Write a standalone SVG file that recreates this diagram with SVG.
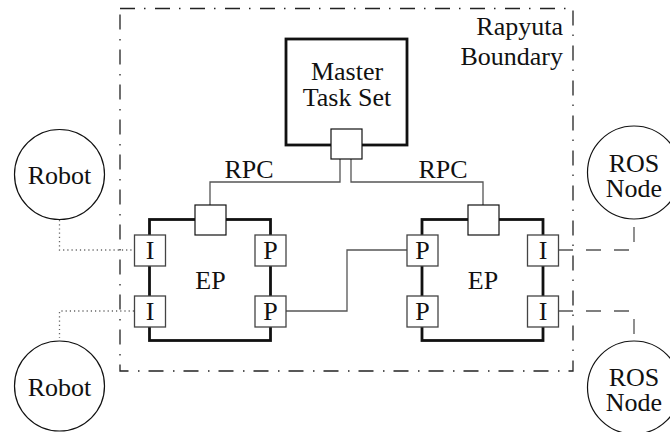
<svg xmlns="http://www.w3.org/2000/svg" width="670" height="432" viewBox="0 0 670 432">
<style>
text{font-family:"Liberation Serif","Times New Roman",serif;font-size:26px;fill:#111;text-anchor:middle}
.thick{fill:#fff;stroke:#111;stroke-width:2.8}
.sq{fill:#fff;stroke:#111;stroke-width:1.2}
.port{fill:#fff;stroke:#444;stroke-width:1.3}
.circ{fill:#fff;stroke:#111;stroke-width:1.2}
.solid{fill:none;stroke:#555;stroke-width:1.3}
.dot{fill:none;stroke:#666;stroke-width:1.3;stroke-dasharray:1.2 3}
.dash{fill:none;stroke:#555;stroke-width:1.3;stroke-dasharray:15 13}
.bound{fill:none;stroke:#222;stroke-width:1.3;stroke-dasharray:15 9 1.5 9.5}
</style>
<rect width="670" height="432" fill="#fff"/>
<g id="boundary">
<path class="bound" d="M120,8.5 H573 V371 H120 Z"/>
<text x="563" y="35" style="text-anchor:end">Rapyuta</text>
<text x="563" y="65" style="text-anchor:end">Boundary</text>
</g>
<g id="connectors">
<path class="solid" d="M340,159 V182 H210 V205"/>
<path class="solid" d="M351,159 V182 H483 V205"/>
<path class="solid" d="M286,311 H347 V250 H407"/>
<path class="dot" d="M59.5,220 V250 H134"/>
<path class="dot" d="M134,311 H59.5 V338"/>
<path class="dash" d="M558,250 H634 V219"/>
<path class="dash" d="M558,311 H634 V341"/>
<text x="249" y="178">RPC</text>
<text x="443" y="178">RPC</text>
</g>
<g id="master">
<rect class="thick" x="286" y="39" width="121" height="106"/>
<text x="347" y="80">Master</text>
<text x="347" y="106">Task Set</text>
<rect class="sq" x="331" y="129" width="31" height="30"/>
</g>
<g id="ep-left">
<rect class="thick" x="149.5" y="219.5" width="121" height="121"/>
<rect class="sq" x="195" y="205" width="31" height="30"/>
<text x="210.5" y="289">EP</text>
<g id="ep-left-i1"><rect class="port" x="134.5" y="235" width="31" height="31"/><text x="150" y="258.5">I</text></g>
<g id="ep-left-i2"><rect class="port" x="134.5" y="296" width="31" height="31"/><text x="150" y="319.5">I</text></g>
<g id="ep-left-p1"><rect class="port" x="255" y="235" width="31" height="31"/><text x="270.5" y="258.5">P</text></g>
<g id="ep-left-p2"><rect class="port" x="255" y="296" width="31" height="31"/><text x="270.5" y="319.5">P</text></g>
</g>
<g id="ep-right">
<rect class="thick" x="422" y="219.5" width="121" height="121"/>
<rect class="sq" x="468" y="205" width="31" height="30"/>
<text x="483" y="289">EP</text>
<g id="ep-right-p1"><rect class="port" x="407" y="235" width="31" height="31"/><text x="422.5" y="258.5">P</text></g>
<g id="ep-right-p2"><rect class="port" x="407" y="296" width="31" height="31"/><text x="422.5" y="319.5">P</text></g>
<g id="ep-right-i1"><rect class="port" x="527.5" y="235" width="31" height="31"/><text x="543" y="258.5">I</text></g>
<g id="ep-right-i2"><rect class="port" x="527.5" y="296" width="31" height="31"/><text x="543" y="319.5">I</text></g>
</g>
<g id="robot-top">
<circle class="circ" cx="59.5" cy="174.5" r="45"/>
<text x="59.5" y="184">Robot</text>
</g>
<g id="robot-bottom">
<circle class="circ" cx="59.5" cy="386" r="45"/>
<text x="59.5" y="396">Robot</text>
</g>
<g id="ros-top">
<circle class="circ" cx="634" cy="172.5" r="46.5"/>
<text x="634" y="172">ROS</text>
<text x="634" y="197">Node</text>
</g>
<g id="ros-bottom">
<circle class="circ" cx="634" cy="387.5" r="46.5"/>
<text x="634" y="386">ROS</text>
<text x="634" y="411">Node</text>
</g>
</svg>
